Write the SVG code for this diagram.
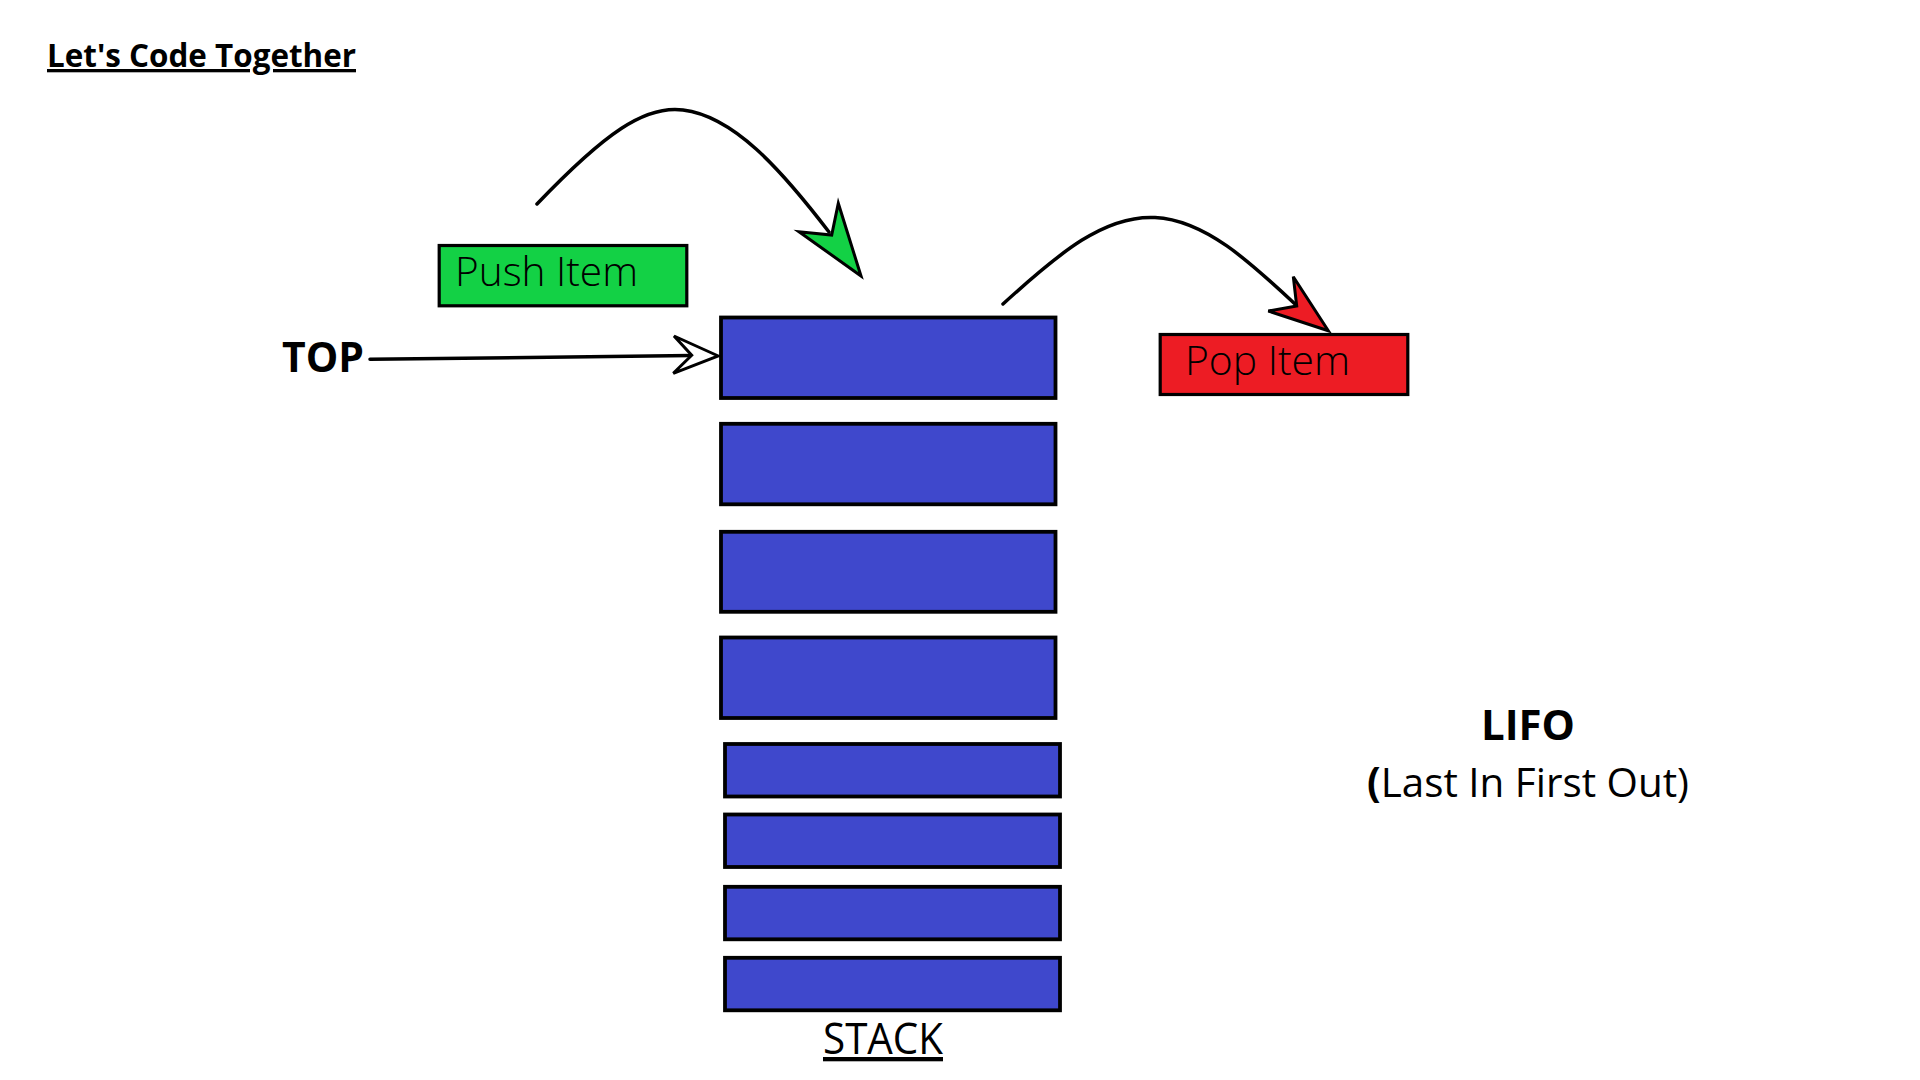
<svg xmlns="http://www.w3.org/2000/svg" width="1920" height="1080" viewBox="0 0 1920 1080">
  <style>
    .txt { font-family: "Open Sans", "Noto Sans", "DejaVu Sans", sans-serif; fill: #000; }
    .bold { font-weight: 700; }
    .light { font-weight: 300; }
    .reg { font-weight: 400; }
    .u { text-decoration: underline; }
    .item { fill: #3F48CC; stroke: #000; stroke-width: 3.8; }
    .curve { fill: none; stroke: #000; stroke-width: 3.5; stroke-linecap: round; }
    .head { stroke: #000; stroke-width: 3; stroke-linejoin: miter; }
  </style>
  <rect x="0" y="0" width="1920" height="1080" fill="#FFFFFF"/>

  <g id="title">
    <text class="txt bold u" x="47" y="67" font-size="33" textLength="309" lengthAdjust="spacingAndGlyphs">Let's Code Together</text>
  </g>

  <g id="push-item">
    <rect x="439.2" y="245.5" width="247.6" height="60.3" fill="#13D145" stroke="#000" stroke-width="3.2"/>
    <text class="txt light" x="455" y="285.5" font-size="41" textLength="183" lengthAdjust="spacingAndGlyphs">Push Item</text>
  </g>

  <g id="pop-item">
    <rect x="1160.2" y="334.5" width="247.6" height="60" fill="#ED1C24" stroke="#000" stroke-width="3.2"/>
    <text class="txt light" x="1185" y="375" font-size="41" textLength="165" lengthAdjust="spacingAndGlyphs">Pop Item</text>
  </g>

  <g id="top-label">
    <text class="txt bold" x="282" y="371.5" font-size="42" textLength="82" lengthAdjust="spacingAndGlyphs">TOP</text>
  </g>

  <g id="stack">
    <rect class="item" x="721" y="317.5" width="334.5" height="80.5"/>
    <rect class="item" x="721" y="423.8" width="334.5" height="80.5"/>
    <rect class="item" x="721" y="531.8" width="334.5" height="80"/>
    <rect class="item" x="721" y="637.5" width="334.5" height="80.5"/>
    <rect class="item" x="725" y="744" width="335" height="52.5"/>
    <rect class="item" x="725" y="814.5" width="335" height="52.5"/>
    <rect class="item" x="725" y="886.8" width="335" height="52.5"/>
    <rect class="item" x="725" y="957.8" width="335" height="52.5"/>
    <text class="txt reg u" x="823" y="1054" font-size="43" textLength="120" lengthAdjust="spacingAndGlyphs">STACK</text>
  </g>

  <g id="lifo">
    <text class="txt bold" x="1528" y="740" font-size="42" text-anchor="middle">LIFO</text>
    <text class="txt reg" x="1367" y="796.5" font-size="41" textLength="322" lengthAdjust="spacingAndGlyphs"><tspan font-weight="700">(</tspan>Last In First Out)</text>
  </g>

  <g id="connectors">
    <path class="curve" d="M537,204 C 605,133 645,105 683,110 C 733,116 780,168 829,232"/>
    <polygon class="head" fill="#13D145" points="861,276 799,231.7 831.7,235 838.3,203.3"/>

    <path class="curve" d="M1003,304 C 1060,252 1105,215 1155,217.5 C 1205,220 1250,262 1295,304"/>
    <polygon class="head" fill="#ED1C24" points="1328.3,330.7 1268.3,311 1296.7,306 1293.3,276.7"/>

    <path class="curve" d="M370,359.3 L 691,355.5"/>
    <polygon class="head" fill="#FFFFFF" points="718.3,356 674,336 691.7,355.3 673.3,373.3"/>
  </g>
</svg>
